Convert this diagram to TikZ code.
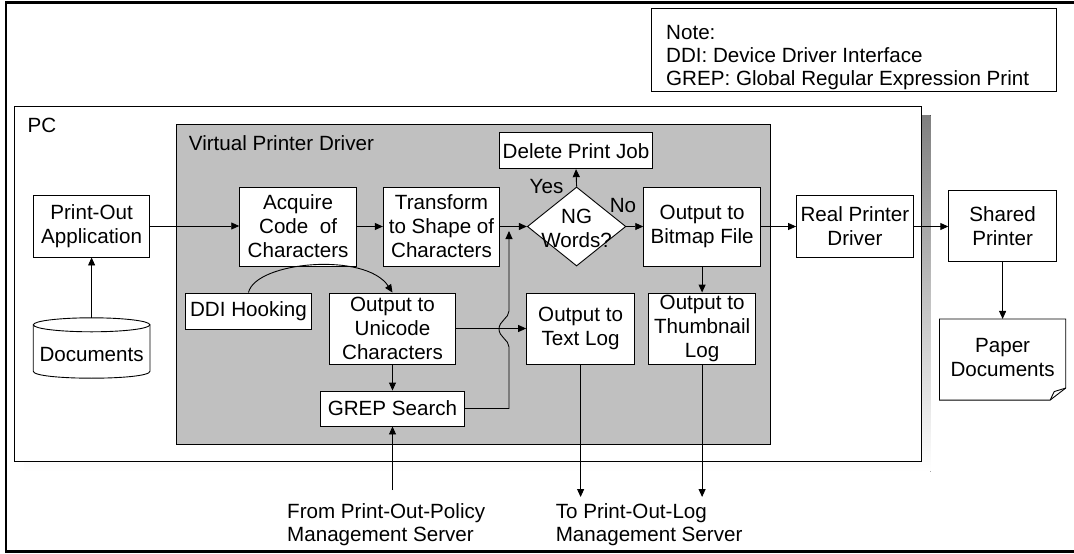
\documentclass[tikz,border=0pt]{standalone}
\usepackage{fontspec}
\setmainfont{Liberation Sans}
\usetikzlibrary{arrows.meta,shapes.geometric,calc}
\definecolor{shade}{RGB}{192,192,192}
\begin{document}
\begin{tikzpicture}[x=1pt,y=-1pt,
  every node/.style={font=\fontsize{20.6}{24}\selectfont},
  box/.style={draw, fill=white, line width=0.9pt, align=center, inner sep=0pt},
  arr/.style={line width=0.9pt, -{Triangle[length=8pt,width=7pt]}},
  thinline/.style={line width=0.9pt},
  lbl/.style={anchor=base west, inner sep=0pt}]
\useasboundingbox (0,0) rectangle (1074,554);
\fill[white] (0,0) rectangle (1074,554);
% outer frame
\draw[line width=2.5pt] (1078,2.5) -- (6,2.5) -- (6,551.5) -- (1078,551.5);
% note
\node[box, minimum width=404.3pt, minimum height=83.6pt] (note) at (853.85,50) {};
\node[lbl] at (666,39.3) {Note:};
\node[lbl] at (666,62.9) {DDI: Device Driver Interface};
\node[lbl] at (666,85.5) {GREP: Global Regular Expression Print};
% PC
\fill[shade] (24,115) rectangle (930.7,471.7);
\draw[thinline, fill=white] (14.8,106) rectangle (921.7,461.7);
\node[lbl] at (27.5,132.7) {PC};
% Virtual printer driver
\draw[thinline, fill=shade] (176.5,124) rectangle (770,444);
\node[lbl] at (188.7,150) {Virtual Printer Driver};
% nodes
\node[box, minimum width=116.4pt, minimum height=62pt] (app) at (91.6,226) {Print-Out\\Application};
\node[minimum width=116.4pt, minimum height=60pt, inner sep=0pt] (docs) at (91.6,348) {};
\draw[thinline, fill=white] ($(docs.north west)+(0,7)$) -- ($(docs.south west)+(0,-7)$)
  .. controls ($(docs.south west)+(0,2.33)$) and ($(docs.south east)+(0,2.33)$) .. ($(docs.south east)+(0,-7)$)
  -- ($(docs.north east)+(0,7)$) -- cycle;
\draw[thinline, fill=white] ($(docs.north)+(0,7)$) ellipse [x radius=58.2, y radius=7];
\node[inner sep=0pt] at ($(docs.center)+(0,6.5)$) {Documents};
\node[box, minimum width=116.8pt, minimum height=79pt] (acq) at (298.1,226.5) {Acquire\\Code~~of\\Characters};
\node[box, minimum width=116.4pt, minimum height=79pt] (trans) at (441.5,226.5) {Transform\\to Shape of\\Characters};
\node[diamond, draw, fill=white, line width=0.9pt, minimum width=98.5pt, minimum height=79pt, inner sep=0pt] (ng) at (576.6,226.5) {};
\node[align=center, inner sep=0pt] at ($(ng.center)+(0,1.5)$) {NG\\Words?};
\node[box, minimum width=152.7pt, minimum height=36pt] (del) at (576,150.7) {Delete Print Job};
\node[box, minimum width=116.8pt, minimum height=79pt] (bmp) at (702.1,226.5) {Output to\\Bitmap File};
\node[box, minimum width=116.7pt, minimum height=61.6pt] (rpd) at (854.9,226.5) {Real Printer\\Driver};
\node[box, minimum width=107.7pt, minimum height=71pt] (shp) at (1002.6,226.2) {Shared\\Printer};
\node[minimum width=125.9pt, minimum height=80.7pt, inner sep=0pt] (paper) at (1002.6,359.5) {};
\draw[thinline] (paper.north west) -- (paper.north east) -- ($(paper.south east)+(0,-12)$)
  -- ($(paper.south east)+(-15.6,0)$) -- (paper.south west) -- cycle;
\draw[thinline] ($(paper.south east)+(-15.6,0)$) -- ($(paper.south east)+(-11.5,-8.5)$) -- ($(paper.south east)+(0,-12)$);
\node[align=center, inner sep=0pt] at ($(paper.center)+(0,-1.5)$) {Paper\\Documents};
\node[box, minimum width=126.4pt, minimum height=36pt] (ddi) at (248.5,311) {DDI Hooking};
\node[box, minimum width=125.7pt, minimum height=71pt] (uni) at (392.5,328.5) {Output to\\Unicode\\Characters};
\node[box, minimum width=144pt, minimum height=35pt] (grep) at (392.5,408.5) {GREP Search};
\node[box, minimum width=108pt, minimum height=71pt] (txt) at (580.6,328.5) {Output to\\Text Log};
\node[box, minimum width=107.6pt, minimum height=71pt] (thm) at (702.1,328.5) {Output to\\Thumbnail\\Log};
% connectors
\draw[arr] (docs.north) -- (app.south);
\draw[arr] (app.east) -- (app.east -| acq.west);
\draw[arr] (acq.east) -- (trans.west);
\draw[arr] (trans.east) -- (ng.west);
\draw[arr] (ng.north) -- (del.south);
\draw[arr] (ng.east) -- (bmp.west);
\draw[arr] (bmp.east) -- (rpd.west);
\draw[arr] (rpd.east) -- (rpd.east -| shp.west);
\draw[arr] (shp.south) -- (paper.north);
\draw[arr] (bmp.south) -- (thm.north);
\draw[arr] (uni.south) -- (grep.north);
\draw[arr] (ddi.north) .. controls ($(ddi.north)+(7,-31)$) and ($(uni.north)+(-27,-41)$) .. (uni.north);
\node at (546.5,187) {Yes};
\node at (623,205.5) {No};
\coordinate (merge) at (509,231);
\draw[arr] (grep.east) -| (509,347) .. controls (509,340) and (499,337) .. (499,329)
  .. controls (499,321) and (509,318) .. (509,311) -- (merge);
\draw[arr] (uni.east) -- (txt.west);
\coordinate (policy) at (392.5,490);
\draw[arr] (policy) -- (grep.south);
\coordinate (logA) at (580.6,497);
\coordinate (logB) at (702.1,497);
\draw[arr] (txt.south) -- (logA);
\draw[arr] (thm.south) -- (logB);
\node[lbl] at (287,518) {From Print-Out-Policy};
\node[lbl] at (287,541) {Management Server};
\node[lbl] at (555.6,518) {To Print-Out-Log};
\node[lbl] at (555.6,541) {Management Server};
\end{tikzpicture}
\end{document}
